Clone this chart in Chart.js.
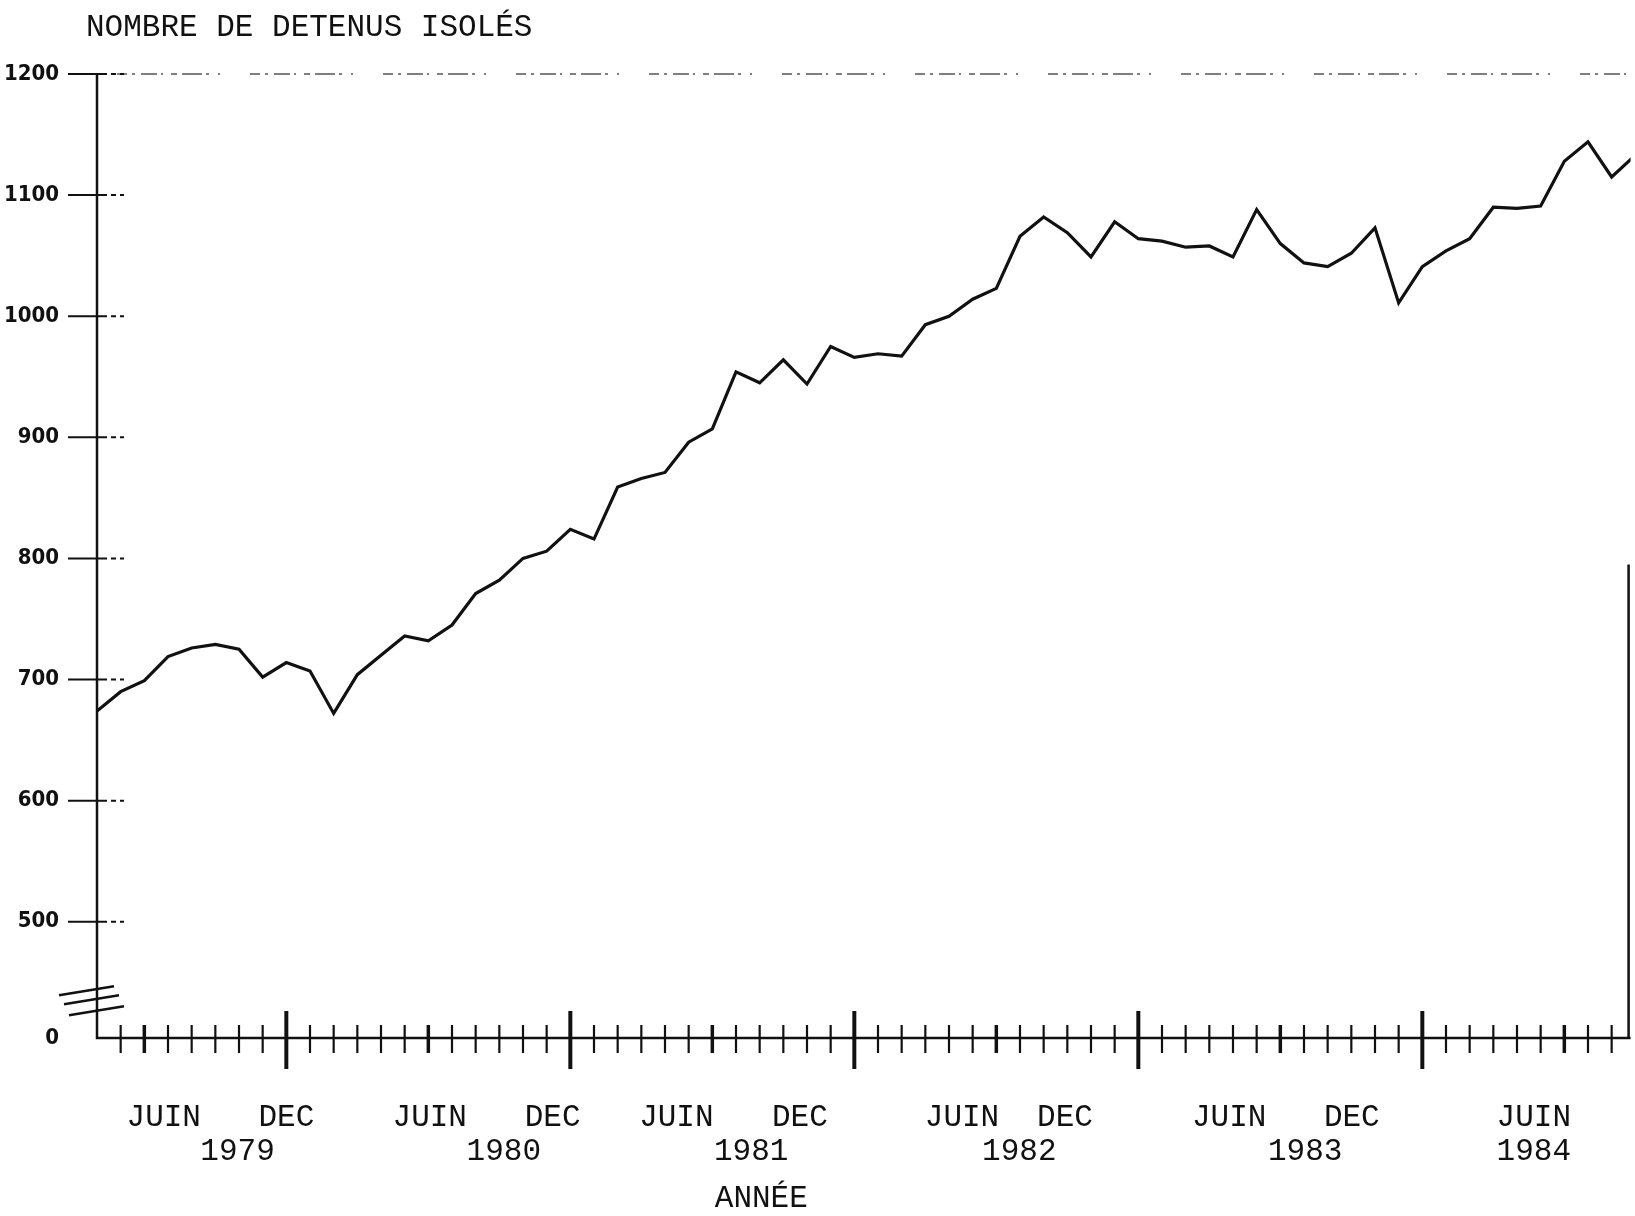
<!DOCTYPE html>
<html>
<head>
<meta charset="utf-8">
<script src="https://cdn.jsdelivr.net/npm/chart.js@4.4.0/dist/chart.umd.min.js"></script>
<style>
html,body{margin:0;padding:0;background:#fff;}
#wrap{width:1635px;height:1216px;}
</style>
</head>
<body>
<div id="wrap"><canvas id="chart" width="1635" height="1216"></canvas></div>
<script>
// nombre de detenus isoles, un point par mois, avril 1979 -> septembre 1984
const detenus = [674,690,699,719,726,729,725,702,714,707,
                 672,704,720,736,732,745,771,782,800,806,
                 824,816,859,866,871,896,907,954,945,964,
                 944,975,966,969,967,993,1000,1014,1023,1066,
                 1082,1069,1049,1078,1064,1062,1057,1058,1049,1088,
                 1060,1044,1041,1052,1073,1011,1041,1054,1064,1090,
                 1089,1091,1128,1144,1115,1133];

const months = [];
for (let yr = 1979, m = 4; months.length < detenus.length; m++) {
    if (m > 12) { m = 1; yr++; }
    months.push(yr + '-' + String(m).padStart(2, '0'));
}

const yTicks = [500,600,700,800,900,1000,1100,1200];
const yMin = 404;          // axe coupe : le bas de l'axe porte "0"
const yBreakAt = 443;

// etiquettes tapees a la machine sous l'axe (en mois depuis avril 1979)
const monthTickLabels = ['JUIN','DEC','JUIN','DEC','JUIN','DEC','JUIN','DEC','JUIN','DEC','JUIN'];
const monthTickAt = [2.82, 8.0, 14.06, 19.25, 24.48, 29.7, 36.55, 40.9, 47.84, 53.02, 60.71];
const yearLabels = ['1979','1980','1981','1982','1983','1984'];
const yearAt = [5.94, 17.19, 27.64, 38.97, 51.05, 60.71];
const axisTitleAt = 28.07;

const xMax = 64.8;
const typeFont = '"Liberation Mono", "Courier New", monospace';

const decor = {
    id: 'decor',
    beforeDatasetsDraw(chart) {
        const {ctx, chartArea: a, scales: {x, y}} = chart;
        ctx.save();
        ctx.lineCap = 'butt';

        // ligne pointillee du haut (1200), irreguliere comme sur le trace
        const top = y.getPixelForValue(1200);
        ctx.lineWidth = 1.5;
        ctx.strokeStyle = '#555';
        ctx.setLineDash([10,5,3,6,16,4,2,8,6,5,20,4,3,9,2,30]);
        ctx.beginPath(); ctx.moveTo(a.left + 20, top); ctx.lineTo(a.right, top); ctx.stroke();
        ctx.setLineDash([]);
        ctx.strokeStyle = '#111';

        // axes
        ctx.lineWidth = 2.5;
        ctx.beginPath();
        ctx.moveTo(a.left, top); ctx.lineTo(a.left, a.bottom); ctx.lineTo(a.right, a.bottom);
        ctx.stroke();
        ctx.beginPath();
        ctx.moveTo(a.right - 2, y.getPixelForValue(795)); ctx.lineTo(a.right - 2, a.bottom);
        ctx.stroke();

        // graduations verticales
        ctx.lineWidth = 2;
        yTicks.forEach(v => {
            const py = y.getPixelForValue(v);
            ctx.beginPath(); ctx.moveTo(a.left - 29, py); ctx.lineTo(a.left + 5, py); ctx.stroke();
            ctx.setLineDash([5,4]);
            ctx.beginPath(); ctx.moveTo(a.left + 5, py); ctx.lineTo(a.left + 27, py); ctx.stroke();
            ctx.setLineDash([]);
        });

        // coupure de l'axe
        ctx.lineWidth = 2.5;
        const yb = y.getPixelForValue(yBreakAt);
        [0, 9, 20].forEach((d, k) => {
            ctx.beginPath();
            ctx.moveTo(a.left - 38 + 5 * k, yb + d + 4.5);
            ctx.lineTo(a.left + 17 + 5 * k, yb + d - 4.5);
            ctx.stroke();
        });

        // graduations mensuelles
        for (let i = 1; i <= Math.floor(xMax); i++) {
            const px = x.getPixelForValue(i);
            const mo = months[i].slice(5);
            let up = 13, down = 15, w = 2.2;
            if (mo === '12') { up = 27; down = 31; w = 4; }
            else if (mo === '06') { w = 3.5; }
            ctx.lineWidth = w;
            ctx.beginPath(); ctx.moveTo(px, a.bottom - up); ctx.lineTo(px, a.bottom + down); ctx.stroke();
        }
        ctx.restore();
    },
    afterDraw(chart) {
        const {ctx, chartArea: a, scales: {x}} = chart;
        ctx.save();
        ctx.fillStyle = '#111';
        ctx.font = '31px ' + typeFont;
        ctx.textBaseline = 'middle';
        ctx.textAlign = 'left';
        ctx.fillText('NOMBRE DE DETENUS ISOLÉS', a.left - 11, a.top - 46);
        ctx.textAlign = 'center';
        ctx.fillText('ANNÉE', x.getPixelForValue(axisTitleAt), a.bottom + 161);
        ctx.restore();
    }
};

const ctx = document.getElementById('chart').getContext('2d');
new Chart(ctx, {
    type: 'line',
    data: {
        datasets: [{
            label: 'Nombre de détenus isolés',
            data: detenus.map((v, i) => ({x: i, y: v})),
            borderColor: '#111',
            borderWidth: 3.2,
            pointRadius: 0,
            tension: 0,
            fill: false
        }]
    },
    options: {
        responsive: false,
        animation: false,
        devicePixelRatio: 1,
        layout: {padding: {top: 74, right: 0, bottom: 38, left: 0}},
        plugins: {legend: {display: false}, tooltip: {enabled: false}},
        scales: {
            x: {
                type: 'linear', position: 'bottom', min: 0, max: xMax,
                grid: {display: false, drawTicks: false}, border: {display: false},
                afterBuildTicks: s => { s.ticks = monthTickAt.map(v => ({value: v})); },
                afterFit: s => { s.height = 95; },
                ticks: {
                    autoSkip: false, maxRotation: 0, padding: 64, color: '#111',
                    font: {family: typeFont, size: 31, lineHeight: 1},
                    callback: (v, i) => monthTickLabels[i]
                }
            },
            x2: {
                type: 'linear', position: 'bottom', min: 0, max: xMax,
                grid: {display: false, drawTicks: false}, border: {display: false},
                afterBuildTicks: s => { s.ticks = yearAt.map(v => ({value: v})); },
                afterFit: s => { s.height = 45; },
                ticks: {
                    autoSkip: false, maxRotation: 0, padding: 3, color: '#111',
                    font: {family: typeFont, size: 31, lineHeight: 1},
                    callback: (v, i) => yearLabels[i]
                }
            },
            y: {
                min: yMin, max: 1200,
                grid: {display: false, drawTicks: false}, border: {display: false},
                afterBuildTicks: s => { s.ticks = [yMin].concat(yTicks).map(v => ({value: v})); },
                afterFit: s => { s.width = 97; },
                ticks: {
                    autoSkip: false, padding: 38, color: '#111',
                    font: {family: '"Liberation Sans Narrow", "DejaVu Sans Condensed", "Liberation Sans", sans-serif', size: 22, weight: 'bold'},
                    callback: v => v === yMin ? '0' : String(v)
                }
            }
        }
    },
    plugins: [decor]
});
</script>
</body>
</html>
